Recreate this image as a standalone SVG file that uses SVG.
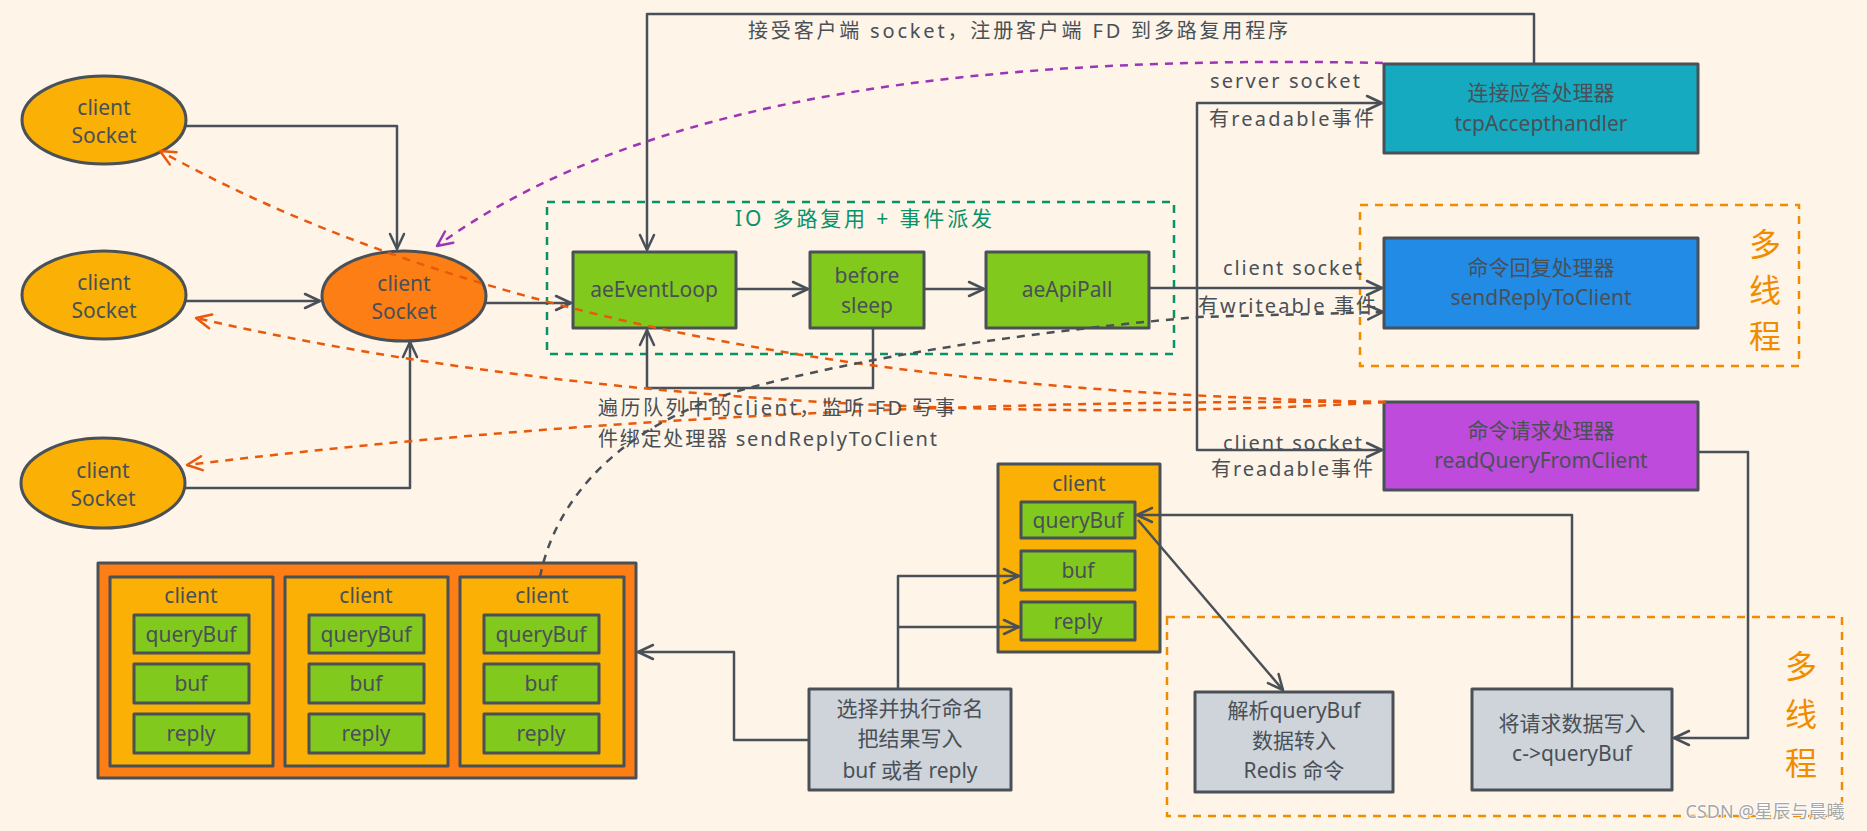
<svg xmlns="http://www.w3.org/2000/svg" width="1867" height="831" viewBox="0 0 1867 831">
<style>
.bg{fill:#fef4e8}
.s{stroke:#495057;stroke-width:3;stroke-linejoin:round}
.amber{fill:#fab005}
.orange{fill:#fd7e14}
.green{fill:#82c91e}
.gray{fill:#ced4da}
.ln{fill:none;stroke:#495057;stroke-width:2.5;stroke-linejoin:round}
.dd{fill:none;stroke:#495057;stroke-width:2.5;stroke-dasharray:8 7}
.od{fill:none;stroke:#e8590c;stroke-width:2.5;stroke-dasharray:8 7}
.pd{fill:none;stroke:#9c36b5;stroke-width:2.5;stroke-dasharray:8 7}
.frame-g{fill:none;stroke:#099268;stroke-width:2.5;stroke-dasharray:8 7}
.frame-o{fill:none;stroke:#f08c00;stroke-width:2.5;stroke-dasharray:8 7}
text{font-family:"Noto Sans","Noto Sans CJK SC",sans-serif;fill:#495057;font-size:21px;text-anchor:middle;dominant-baseline:central}
.cn{font-size:21px}
.lab{font-size:20px;text-anchor:start}
.mt{font-size:32px;fill:#f08c00}
</style>
<defs>
<marker id="ah" viewBox="0 0 20 20" refX="18" refY="10" markerWidth="20" markerHeight="20" markerUnits="userSpaceOnUse" orient="auto"><path d="M3,3 L18,10 L3,17" fill="none" stroke="#495057" stroke-width="2.5" stroke-linecap="round" stroke-linejoin="round"/></marker>
<marker id="ahO" viewBox="0 0 20 20" refX="18" refY="10" markerWidth="20" markerHeight="20" markerUnits="userSpaceOnUse" orient="auto"><path d="M3,3 L18,10 L3,17" fill="none" stroke="#e8590c" stroke-width="2.5" stroke-linecap="round" stroke-linejoin="round"/></marker>
<marker id="ahP" viewBox="0 0 20 20" refX="18" refY="10" markerWidth="20" markerHeight="20" markerUnits="userSpaceOnUse" orient="auto"><path d="M3,3 L18,10 L3,17" fill="none" stroke="#9c36b5" stroke-width="2.5" stroke-linecap="round" stroke-linejoin="round"/></marker>
</defs>
<rect class="bg" x="0" y="0" width="1867" height="831"/>

<g id="frames">
<rect id="io-frame" class="frame-g" x="547" y="202" width="627" height="152"/>
<text x="735" y="218" style="fill:#099268;text-anchor:start" textLength="257" lengthAdjust="spacing">IO 多路复用 + 事件派发</text>
<rect id="mt-frame-1" class="frame-o" x="1360" y="205" width="439" height="161"/>
<text class="mt" x="1765" y="243">多</text>
<text class="mt" x="1765" y="289">线</text>
<text class="mt" x="1765" y="335">程</text>
<rect id="mt-frame-2" class="frame-o" x="1167" y="617" width="675" height="199"/>
<text class="mt" x="1801" y="665">多</text>
<text class="mt" x="1801" y="713">线</text>
<text class="mt" x="1801" y="762">程</text>
</g>

<g id="client-socket-1"><ellipse class="s amber" cx="104" cy="120" rx="82" ry="44"/><text x="104" y="107">client</text><text x="104" y="135">Socket</text></g>
<g id="client-socket-2"><ellipse class="s amber" cx="104" cy="295" rx="82" ry="44"/><text x="104" y="282">client</text><text x="104" y="310">Socket</text></g>
<g id="client-socket-3"><ellipse class="s amber" cx="103" cy="483" rx="82" ry="45"/><text x="103" y="470">client</text><text x="103" y="498">Socket</text></g>
<g id="client-socket-main"><ellipse class="s orange" cx="404" cy="296" rx="82" ry="45"/><text x="404" y="283">client</text><text x="404" y="311">Socket</text></g>

<g id="aeEventLoop"><rect class="s green" x="573" y="252" width="163" height="76"/><text x="654" y="289">aeEventLoop</text></g>
<g id="beforeSleep"><rect class="s green" x="810" y="252" width="114" height="76"/><text x="867" y="275">before</text><text x="867" y="305">sleep</text></g>
<g id="aeApiPall"><rect class="s green" x="986" y="252" width="163" height="76"/><text x="1067" y="289">aeApiPall</text></g>

<g id="tcpAccept"><rect class="s" style="fill:#15aabf" x="1384" y="64" width="314" height="89"/><text class="cn" x="1541" y="92">连接应答处理器</text><text x="1541" y="123">tcpAccepthandler</text></g>
<g id="sendReply"><rect class="s" style="fill:#228be6" x="1384" y="238" width="314" height="90"/><text class="cn" x="1541" y="267">命令回复处理器</text><text x="1541" y="297">sendReplyToClient</text></g>
<g id="readQuery"><rect class="s" style="fill:#be4bdb" x="1384" y="402" width="314" height="88"/><text class="cn" x="1541" y="430">命令请求处理器</text><text x="1541" y="460">readQueryFromClient</text></g>

<g id="writeQueryBuf"><rect class="s gray" x="1472" y="689" width="200" height="101"/><text class="cn" x="1572" y="723">将请求数据写入</text><text x="1572" y="753">c-&gt;queryBuf</text></g>
<g id="parseQueryBuf"><rect class="s gray" x="1195" y="692" width="198" height="100"/><text class="cn" x="1294" y="710">解析queryBuf</text><text class="cn" x="1294" y="740">数据转入</text><text class="cn" x="1294" y="770">Redis 命令</text></g>
<g id="execCommand"><rect class="s gray" x="809" y="689" width="202" height="101"/><text class="cn" x="910" y="708">选择并执行命名</text><text class="cn" x="910" y="738">把结果写入</text><text class="cn" x="910" y="770">buf 或者 reply</text></g>

<g id="client-mid"><rect class="s amber" x="998" y="464" width="162" height="188"/><text x="1079" y="483">client</text>
<rect class="s green" x="1021" y="502" width="114" height="36"/><text x="1078" y="520">queryBuf</text>
<rect class="s green" x="1021" y="551" width="114" height="39"/><text x="1078" y="570">buf</text>
<rect class="s green" x="1021" y="602" width="114" height="38"/><text x="1078" y="621">reply</text></g>

<g id="client-list"><rect class="s orange" x="98" y="563" width="538" height="215"/>
<g id="client-list-1"><rect class="s amber" x="110" y="577" width="163" height="189"/><text x="191" y="595">client</text>
<rect class="s green" x="134" y="615" width="115" height="38"/><text x="191" y="634">queryBuf</text>
<rect class="s green" x="134" y="664" width="115" height="39"/><text x="191" y="683">buf</text>
<rect class="s green" x="134" y="714" width="115" height="39"/><text x="191" y="733">reply</text></g>
<g id="client-list-2"><rect class="s amber" x="285" y="577" width="163" height="189"/><text x="366" y="595">client</text>
<rect class="s green" x="309" y="615" width="115" height="38"/><text x="366" y="634">queryBuf</text>
<rect class="s green" x="309" y="664" width="115" height="39"/><text x="366" y="683">buf</text>
<rect class="s green" x="309" y="714" width="115" height="39"/><text x="366" y="733">reply</text></g>
<g id="client-list-3"><rect class="s amber" x="460" y="577" width="164" height="189"/><text x="542" y="595">client</text>
<rect class="s green" x="484" y="615" width="115" height="38"/><text x="541" y="634">queryBuf</text>
<rect class="s green" x="484" y="664" width="115" height="39"/><text x="541" y="683">buf</text>
<rect class="s green" x="484" y="714" width="115" height="39"/><text x="541" y="733">reply</text></g>
</g>

<g id="connectors">
<path class="ln" d="M186,126 H397 V249" marker-end="url(#ah)"/>
<path class="ln" d="M186,301 H320" marker-end="url(#ah)"/>
<path class="ln" d="M185,488 H410 V342" marker-end="url(#ah)"/>
<path class="ln" d="M486,303 H571" marker-end="url(#ah)"/>
<path class="ln" d="M737,289 H808" marker-end="url(#ah)"/>
<path class="ln" d="M924,289 H984" marker-end="url(#ah)"/>
<path class="ln" d="M1149,288 H1382" marker-end="url(#ah)"/>
<path class="ln" d="M1197,288 V103 H1382" marker-end="url(#ah)"/>
<path class="ln" d="M1197,288 V450 H1382" marker-end="url(#ah)"/>
<path class="ln" d="M1534,64 V14 H647 V250" marker-end="url(#ah)"/>
<path class="ln" d="M873,328 V388 H647 V330" marker-end="url(#ah)"/>
<path class="ln" d="M1698,452 H1748 V738 H1674" marker-end="url(#ah)"/>
<path class="ln" d="M1572,689 V515 H1137" marker-end="url(#ah)"/>
<path class="ln" d="M1138,520 L1283,690" marker-end="url(#ah)"/>
<path class="ln" d="M898,689 V576 H1019" marker-end="url(#ah)"/>
<path class="ln" d="M898,627 H1019" marker-end="url(#ah)"/>
<path class="ln" d="M809,740 H734 V652 H638" marker-end="url(#ah)"/>
<path class="pd" d="M1383,63 C1000,55 650,90 437,246" marker-end="url(#ahP)"/>
<path class="od" d="M1386,402 C1000,395 520,350 160,151" marker-end="url(#ahO)"/>
<path class="od" d="M1386,402 C1100,420 620,415 196,318" marker-end="url(#ahO)"/>
<path class="od" d="M1386,402 C1000,400 600,415 187,465" marker-end="url(#ahO)"/>
<path class="dd" d="M540,577 C555,500 620,420 760,385 S1050,330 1198,317 L1383,312" marker-end="url(#ah)"/>
</g>

<g id="labels">
<text class="lab" x="748" y="30" textLength="540" lengthAdjust="spacing">接受客户端 socket，注册客户端 FD 到多路复用程序</text>
<text class="lab" x="598" y="407" textLength="357" lengthAdjust="spacing">遍历队列中的client，监听 FD 写事</text>
<text class="lab" x="598" y="438" textLength="339" lengthAdjust="spacing">件绑定处理器 sendReplyToClient</text>
<text class="lab" x="1210" y="80" textLength="150" lengthAdjust="spacing">server socket</text>
<text class="lab" x="1209" y="118" textLength="165" lengthAdjust="spacing">有readable事件</text>
<text class="lab" x="1223" y="267" textLength="139" lengthAdjust="spacing">client socket</text>
<text class="lab" x="1198" y="305" textLength="178" lengthAdjust="spacing">有writeable 事件</text>
<text class="lab" x="1223" y="442" textLength="139" lengthAdjust="spacing">client socket</text>
<text class="lab" x="1211" y="468" textLength="162" lengthAdjust="spacing">有readable事件</text>
</g>

<text x="1765" y="811" style="font-size:18px;fill:#a6a6a6;stroke:#ffffff;stroke-width:1.5;paint-order:stroke">CSDN @星辰与晨曦</text>
</svg>
